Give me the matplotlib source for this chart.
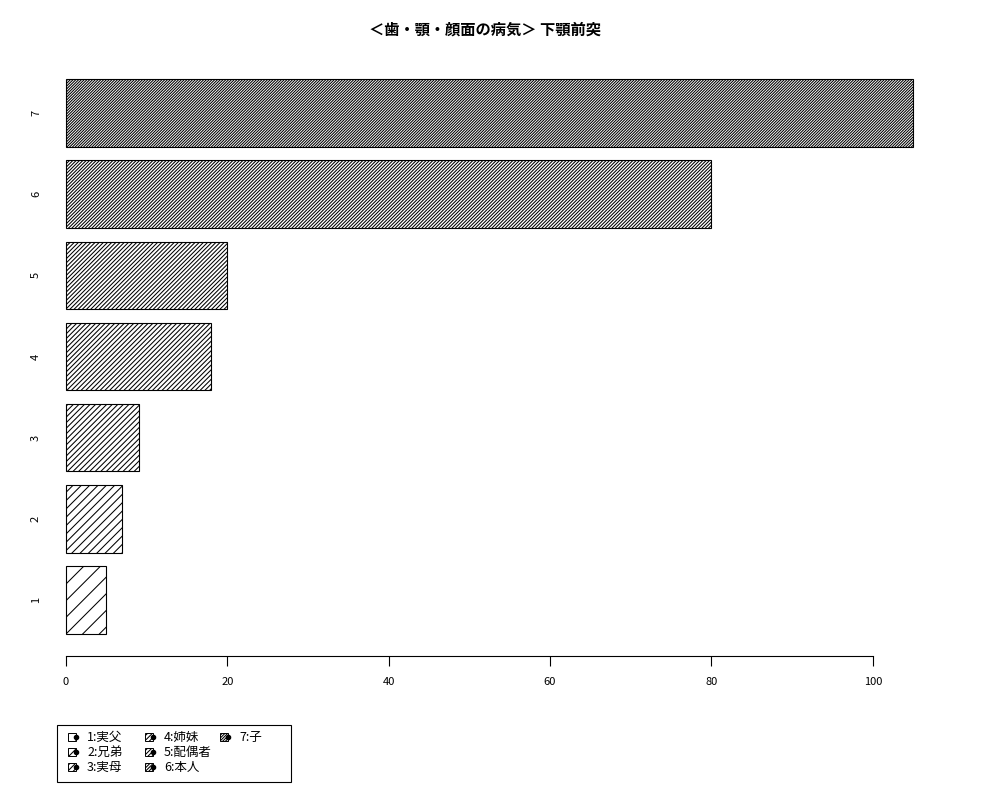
import matplotlib
matplotlib.use('Agg')
import matplotlib.pyplot as plt
import matplotlib.transforms as mtransforms
from matplotlib.patches import Rectangle
from matplotlib.lines import Line2D

plt.rcParams['font.family'] = ['Noto Sans CJK JP', 'DejaVu Sans']
plt.rcParams['hatch.linewidth'] = 0.75

title = '＜歯・顎・顔面の病気＞ 下顎前突'
categories = ['1', '2', '3', '4', '5', '6', '7']
values = [5, 7, 9, 18, 20, 80, 105]
legend_labels = ['1:実父', '2:兄弟', '3:実母', '4:姉妹', '5:配偶者', '6:本人', '7:子']
xticks = [0, 20, 40, 60, 80, 100]
# hatch density per bar (number of '/' repeats)
hatch_counts = [2, 4, 6, 7, 8, 10, 12]

W, H = 1000, 800
fig = plt.figure(figsize=(10, 8), dpi=100)
ax = fig.add_axes([0.032, 0.18, 0.915, 0.74875])

# R barplot style: width 1, space 0.2
ypos = [0.7 + 1.2 * i for i in range(len(values))]
hatches = ['/' * n for n in hatch_counts]
for y, v, h in zip(ypos, values, hatches):
    ax.barh(y, v, height=1.0, color='white', edgecolor='black',
            hatch=h, linewidth=0.8)

ax.set_xlim(-0.04 * 105, 105 * 1.04)
ax.set_ylim(0.2 - 0.328, 8.4 + 0.328)

for s in ax.spines.values():
    s.set_visible(False)
ax.plot([0, 100], [-0.128, -0.128], color='black', lw=0.8, clip_on=False)
ax.set_xticks(xticks)
ax.set_xticklabels([str(t) for t in xticks], fontsize=8)
ax.tick_params(axis='x', length=7, width=0.8, pad=8)
ax.set_yticks([])

# category labels, rotated like R's horizontal barplot names
trans = mtransforms.blended_transform_factory(fig.transFigure, ax.transData)
for y, c in zip(ypos, categories):
    ax.text(0.036, y, c, transform=trans, rotation=90, ha='center',
            va='center', fontsize=8)

fig.text(0.485, 0.963, title, ha='center', va='center', fontsize=11,
         fontweight='bold')

# legend drawn R-style: fixed column width, column-major fill
def fx(px):
    return px / W

def fy(py):
    return 1 - py / H

fig.add_artist(Rectangle((fx(57), fy(782)), fx(291) - fx(57), fy(725) - fy(782),
                         transform=fig.transFigure, facecolor='white',
                         edgecolor='black', lw=0.8))
col_x = [68, 145, 220]
row_y = [737, 752, 767]
for i, (lab, h) in enumerate(zip(legend_labels, hatches)):
    cx = col_x[i // 3]
    cy = row_y[i % 3]
    fig.add_artist(Rectangle((fx(cx), fy(cy + 4)), fx(8), 8 / H,
                             transform=fig.transFigure, facecolor='white',
                             edgecolor='black', hatch=h, lw=0.7))
    fig.add_artist(Line2D([fx(cx + 8)], [fy(cy)], marker='o', markersize=3,
                          color='black', transform=fig.transFigure))
    fig.text(fx(cx + 19), fy(cy), lab, ha='left', va='center', fontsize=9)

fig.savefig('out.png', dpi=100, facecolor='white')
